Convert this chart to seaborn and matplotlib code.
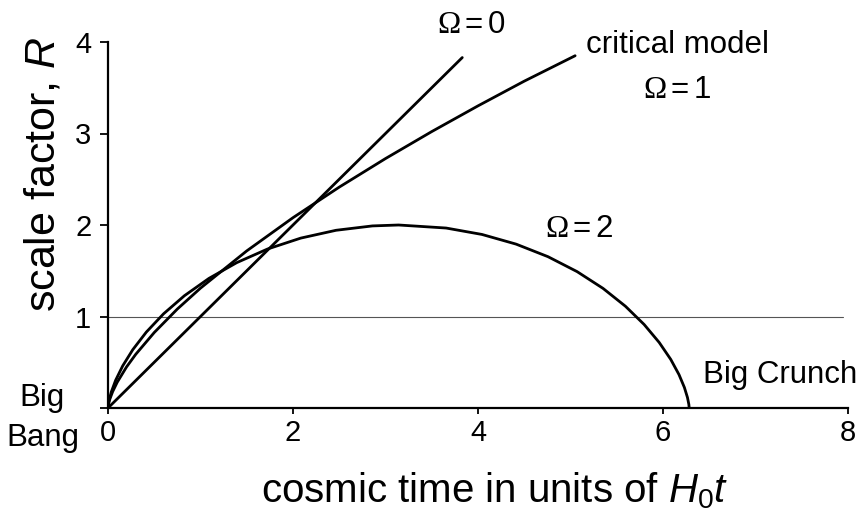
import matplotlib
matplotlib.use("Agg")
import matplotlib.pyplot as plt
import seaborn as sns
import pandas as pd

# Scale factor R versus cosmic time H0*t for three Friedmann models
t_empty = [0.0, 3.83]
R_empty = [0.0, 3.83]

t_crit = [0.0, 0.01, 0.02, 0.05, 0.1, 0.2, 0.3, 0.5, 0.75, 1.0, 1.5, 2.0,
          2.5, 3.0, 3.5, 4.0, 4.5, 5.05]
R_crit = [0.0, 0.061, 0.097, 0.178, 0.282, 0.448, 0.587, 0.825, 1.082, 1.310,
          1.717, 2.080, 2.414, 2.726, 3.021, 3.302, 3.572, 3.85]

t_closed = [0.0, 0.0013, 0.0106, 0.0354, 0.0826, 0.1585, 0.2680, 0.4146,
            0.6004, 0.8262, 1.0907, 1.3915, 1.7245, 2.0845, 2.4650, 2.8589,
            3.1416, 3.6555, 4.0425, 4.4119, 4.7568, 5.0716, 5.3516, 5.5937,
            5.7962, 5.9589, 6.0835, 6.1728, 6.2313, 6.2646, 6.2794, 6.2832]
R_closed = [0.0, 0.0199, 0.0789, 0.1747, 0.3033, 0.4597, 0.6376, 0.8300,
            1.0292, 1.2272, 1.4161, 1.5885, 1.7374, 1.8569, 1.9422, 1.9900,
            2.0, 1.9668, 1.8968, 1.7910, 1.6536, 1.4903, 1.3073, 1.1122,
            0.9125, 0.7163, 0.5315, 0.3653, 0.2244, 0.1145, 0.0398, 0.0]

x_ticks = [0, 2, 4, 6, 8]
y_ticks = [0, 1, 2, 3, 4]
y_tick_labels = ["", "1", "2", "3", "4"]
R_reference = 1.0

sns.set_style("ticks")
plt.rcParams["font.family"] = ["Liberation Sans", "DejaVu Sans"]
plt.rcParams["mathtext.fontset"] = "custom"
plt.rcParams["mathtext.rm"] = "Liberation Serif"
plt.rcParams["mathtext.sf"] = "Liberation Sans"
plt.rcParams["mathtext.it"] = "Liberation Sans:italic"

W, H = 862, 513
fig = plt.figure(figsize=(W / 100, H / 100), dpi=100)
ax = fig.add_axes([108 / W, 1 - 408 / H, 740 / W, 366 / H])

ax.axhline(R_reference, xmin=0, xmax=7.95 / 8, color="#555555", lw=0.8, zorder=1)

line_kw = dict(color="black", lw=2.0, sort=False, estimator=None, ax=ax)
sns.lineplot(data=pd.DataFrame({"t": t_empty, "R": R_empty}), x="t", y="R", **line_kw)
sns.lineplot(data=pd.DataFrame({"t": t_crit, "R": R_crit}), x="t", y="R", **line_kw)
sns.lineplot(data=pd.DataFrame({"t": t_closed, "R": R_closed}), x="t", y="R", **line_kw)

ax.set_xlim(0, 8)
ax.set_ylim(0, 4)
ax.set_xticks(x_ticks)
ax.set_xticklabels([str(v) for v in x_ticks])
ax.set_yticks(y_ticks)
ax.set_yticklabels(y_tick_labels)
ax.set_xlabel("")
ax.set_ylabel("")

for side in ("top", "right"):
    ax.spines[side].set_visible(False)
for side in ("left", "bottom"):
    ax.spines[side].set_linewidth(1.6)
    ax.spines[side].set_color("black")

ax.tick_params(axis="y", direction="out", length=6, width=1.3, pad=6,
               labelsize=21, colors="black")
ax.tick_params(axis="x", direction="out", length=4, width=1.3, pad=4,
               labelsize=21, colors="black")

txt = dict(fontsize=22.5, color="black", va="baseline", clip_on=False)
ax.text(3.56, 4.10, r"$\Omega\,$=$\,$0", ha="left", **txt)
ax.text(5.17, 3.88, "critical model", ha="left", **txt)
ax.text(5.78, 3.39, r"$\Omega\,$=$\,$1", ha="left", **txt)
ax.text(4.72, 1.87, r"$\Omega\,$=$\,$2", ha="left", **txt)
ax.text(6.43, 0.27, "Big Crunch", ha="left", **txt)
ax.text(-0.71, 0.02, "Big", ha="center", **txt)
ax.text(-0.70, -0.415, "Bang", ha="center", **txt)

fig.text(44 / W, 1 - 174 / H, r"scale factor, $R$", rotation=90,
         ha="center", va="center", fontsize=31, color="black")
fig.text(494.5 / W, 1 - 502 / H, r"cosmic time in units of $H_{\mathsf{0}}t$",
         ha="center", va="baseline", fontsize=29, color="black")

fig.savefig("out.png", dpi=100)
